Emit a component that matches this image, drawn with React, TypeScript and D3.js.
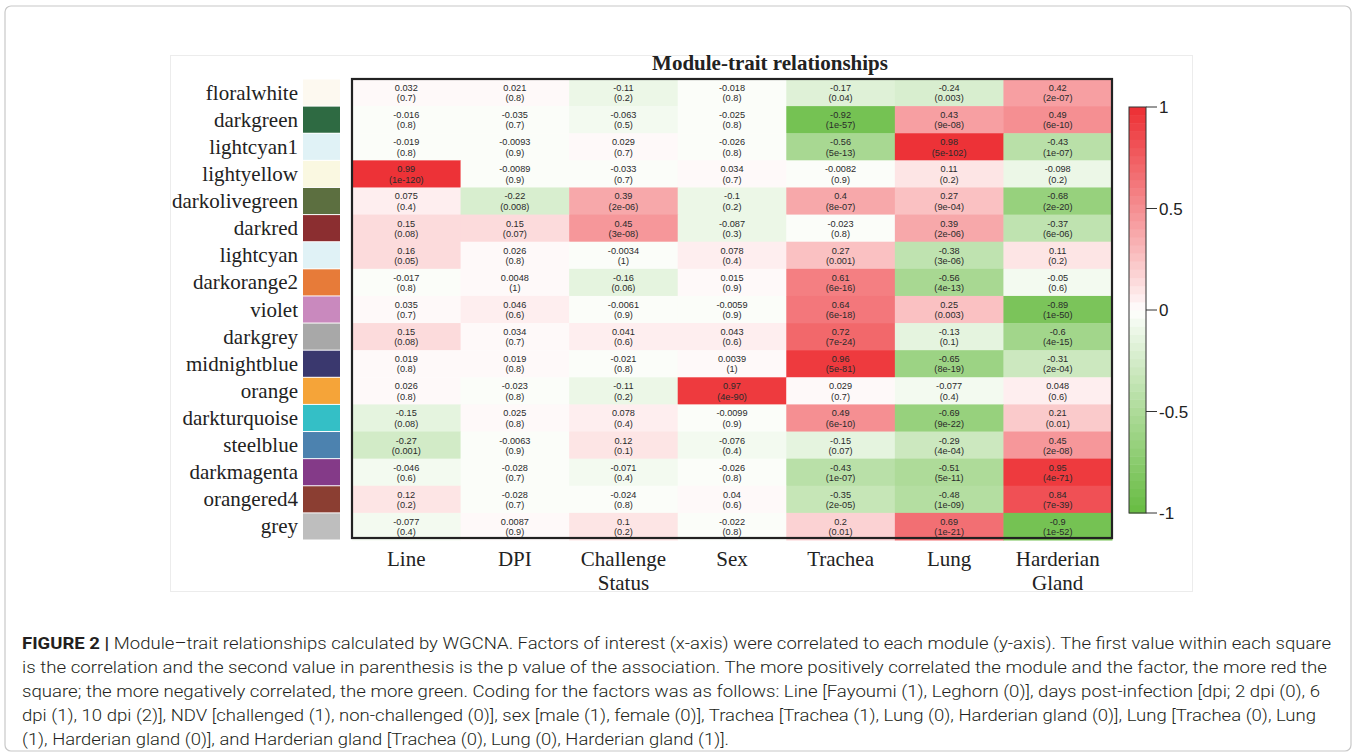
import React from 'react';
import * as d3 from 'd3';

// modules (rows) and traits (columns)
const modules = [
  'floralwhite', 'darkgreen', 'lightcyan1', 'lightyellow', 'darkolivegreen',
  'darkred', 'lightcyan', 'darkorange2', 'violet', 'darkgrey', 'midnightblue',
  'orange', 'darkturquoise', 'steelblue', 'darkmagenta', 'orangered4', 'grey',
];

const moduleSwatches = [
  '#fdf9f0', '#2e6a42', '#e0f2f6', '#faf8e1', '#5c6f40', '#8b2e30', '#e0f2f6',
  '#e77b39', '#c989be', '#a8a8a8', '#3a386e', '#f5a439', '#34bfc6', '#4c82af',
  '#843a88', '#8b3e32', '#bebebe',
];

const traits = ['Line', 'DPI', 'Challenge Status', 'Sex', 'Trachea', 'Lung', 'Harderian Gland'];

// correlation per module row, trait order as above
const corValues = [
  [0.032, 0.021, -0.11, -0.018, -0.17, -0.24, 0.42],
  [-0.016, -0.035, -0.063, -0.025, -0.92, 0.43, 0.49],
  [-0.019, -0.0093, 0.029, -0.026, -0.56, 0.98, -0.43],
  [0.99, -0.0089, -0.033, 0.034, -0.0082, 0.11, -0.098],
  [0.075, -0.22, 0.39, -0.1, 0.4, 0.27, -0.68],
  [0.15, 0.15, 0.45, -0.087, -0.023, 0.39, -0.37],
  [0.16, 0.026, -0.0034, 0.078, 0.27, -0.38, 0.11],
  [-0.017, 0.0048, -0.16, 0.015, 0.61, -0.56, -0.05],
  [0.035, 0.046, -0.0061, -0.0059, 0.64, 0.25, -0.89],
  [0.15, 0.034, 0.041, 0.043, 0.72, -0.13, -0.6],
  [0.019, 0.019, -0.021, 0.0039, 0.96, -0.65, -0.31],
  [0.026, -0.023, -0.11, 0.97, 0.029, -0.077, 0.048],
  [-0.15, 0.025, 0.078, -0.0099, 0.49, -0.69, 0.21],
  [-0.27, -0.0063, 0.12, -0.076, -0.15, -0.29, 0.45],
  [-0.046, -0.028, -0.071, -0.026, -0.43, -0.51, 0.95],
  [0.12, -0.028, -0.024, 0.04, -0.35, -0.48, 0.84],
  [-0.077, 0.0087, 0.1, -0.022, 0.2, 0.69, -0.9],
];

// p values, kept as printed
const pValues = [
  ['0.7', '0.8', '0.2', '0.8', '0.04', '0.003', '2e-07'],
  ['0.8', '0.7', '0.5', '0.8', '1e-57', '9e-08', '6e-10'],
  ['0.8', '0.9', '0.7', '0.8', '5e-13', '5e-102', '1e-07'],
  ['1e-120', '0.9', '0.7', '0.7', '0.9', '0.2', '0.2'],
  ['0.4', '0.008', '2e-06', '0.2', '8e-07', '9e-04', '2e-20'],
  ['0.08', '0.07', '3e-08', '0.3', '0.8', '2e-06', '6e-06'],
  ['0.05', '0.8', '1', '0.4', '0.001', '3e-06', '0.2'],
  ['0.8', '1', '0.06', '0.9', '6e-16', '4e-13', '0.6'],
  ['0.7', '0.6', '0.9', '0.9', '6e-18', '0.003', '1e-50'],
  ['0.08', '0.7', '0.6', '0.6', '7e-24', '0.1', '4e-15'],
  ['0.8', '0.8', '0.8', '1', '5e-81', '8e-19', '2e-04'],
  ['0.8', '0.8', '0.2', '4e-90', '0.7', '0.4', '0.6'],
  ['0.08', '0.8', '0.4', '0.9', '6e-10', '9e-22', '0.01'],
  ['0.001', '0.9', '0.1', '0.4', '0.07', '4e-04', '2e-08'],
  ['0.6', '0.7', '0.4', '0.8', '1e-07', '5e-11', '4e-71'],
  ['0.2', '0.7', '0.8', '0.6', '2e-05', '1e-09', '7e-39'],
  ['0.4', '0.9', '0.2', '0.8', '0.01', '1e-21', '1e-52'],
];

const legendTicks = [1, 0.5, 0, -0.5, -1];
const nColors = 50;

const captionLines = [
  'Module–trait relationships calculated by WGCNA. Factors of interest (x-axis) were correlated to each module (y-axis). The first value within each square',
  'is the correlation and the second value in parenthesis is the p value of the association. The more positively correlated the module and the factor, the more red the',
  'square; the more negatively correlated, the more green. Coding for the factors was as follows: Line [Fayoumi (1), Leghorn (0)], days post-infection [dpi; 2 dpi (0), 6',
  'dpi (1), 10 dpi (2)], NDV [challenged (1), non-challenged (0)], sex [male (1), female (0)], Trachea [Trachea (1), Lung (0), Harderian gland (0)], Lung [Trachea (0), Lung',
  '(1), Harderian gland (0)], and Harderian gland [Trachea (0), Lung (0), Harderian gland (1)].',
];
const captionEnds = [1331, 1327, 1320, 1316, 729];

const serif = '"Liberation Serif", "Times New Roman", serif';
const sans = '"Liberation Sans", Arial, sans-serif';
const captionFont = 'Roboto, "Liberation Sans", Arial, sans-serif';

export default function App() {
  const x = d3.scaleBand().domain(traits).range([352, 1112]);
  const y = d3.scaleBand().domain(modules).range([79, 540]);

  const ramp = d3
    .scaleDivergingPow()
    .exponent(0.9)
    .domain([-1, 0, 1])
    .interpolator(d3.piecewise(d3.interpolateRgb, ['#6abd45', '#ffffff', '#ed3237']));
  // WGCNA style: a palette of 50 discrete colours
  const levels = d3.range(nColors).map((k) => -1 + (2 * k) / (nColors - 1));
  const color = (v) => {
    const k = Math.round(((v + 1) / 2) * (nColors - 1));
    return ramp(levels[Math.max(0, Math.min(nColors - 1, k))]);
  };

  const legendY = d3.scaleLinear().domain([0, nColors]).range([513, 107]);

  const cells = [];
  modules.forEach((m, i) => {
    traits.forEach((t, j) => {
      cells.push({ m, t, v: corValues[i][j], p: pValues[i][j] });
    });
  });

  const tickY = d3.scaleLinear().domain([1, -1]).range([107, 513]);

  return (
    <svg
      width={1356}
      height={756}
      style={{ position: 'absolute', left: 0, top: 0, display: 'block', background: '#fff' }}
    >
      <rect x={5} y={6} width={1346} height={745} rx={6} fill="none" stroke="#c8c8c8" strokeWidth={1.2} />
      <rect x={170.5} y={55.5} width={1022} height={536} fill="none" stroke="#ececec" strokeWidth={1} />

      <text x={770} y={70} textAnchor="middle" fontFamily={serif} fontWeight="bold" fontSize={21} fill="#222">
        Module-trait relationships
      </text>

      {/* module names and colour swatches */}
      {modules.map((m, i) => (
        <g key={m}>
          <text
            x={298}
            y={y(m) + y.bandwidth() / 2 + 7}
            textAnchor="end"
            fontFamily={serif}
            fontSize={21}
            fill="#222"
          >
            {m}
          </text>
          <rect x={303} y={y(m) + 0.5} width={37} height={y.bandwidth() - 1} fill={moduleSwatches[i]} />
        </g>
      ))}

      {/* heatmap cells */}
      {cells.map((c) => (
        <g key={c.m + c.t}>
          <rect x={x(c.t)} y={y(c.m)} width={x.bandwidth() + 0.5} height={y.bandwidth() + 0.5} fill={color(c.v)} />
          <text
            x={x(c.t) + x.bandwidth() / 2}
            y={y(c.m) + 12}
            textAnchor="middle"
            fontFamily={sans}
            fontSize={9.2}
            fill="#2a2a2a"
          >
            {String(c.v)}
          </text>
          <text
            x={x(c.t) + x.bandwidth() / 2}
            y={y(c.m) + 22.3}
            textAnchor="middle"
            fontFamily={sans}
            fontSize={9.2}
            fill="#2a2a2a"
          >
            {'(' + c.p + ')'}
          </text>
        </g>
      ))}
      <rect x={352} y={79} width={760} height={459} fill="none" stroke="#222" strokeWidth={2.2} />

      {/* trait labels */}
      {traits.map((t) => {
        const words = t.split(' ');
        return (
          <text key={t} textAnchor="middle" fontFamily={serif} fontSize={21} fill="#222">
            {words.map((w, k) => (
              <tspan key={w} x={x(t) + x.bandwidth() / 2} y={566 + k * 24}>
                {w}
              </tspan>
            ))}
          </text>
        );
      })}

      {/* colour legend */}
      {levels.map((v, k) => (
        <rect
          key={k}
          x={1129}
          y={legendY(k + 1)}
          width={17}
          height={legendY(k) - legendY(k + 1) + 0.5}
          fill={ramp(v)}
        />
      ))}
      <rect x={1129} y={tickY(1)} width={17} height={tickY(-1) - tickY(1)} fill="none" stroke="#333" strokeWidth={1} />
      {legendTicks.map((t) => (
        <g key={t}>
          <line x1={1146} x2={1157} y1={tickY(t)} y2={tickY(t)} stroke="#333" strokeWidth={1} />
          <text x={1159} y={tickY(t)} dy="0.36em" fontFamily={sans} fontSize={17} fill="#222">
            {t}
          </text>
        </g>
      ))}

      {/* caption */}
      {captionLines.map((line, i) => (
        <text
          key={i}
          x={22}
          y={649 + i * 24}
          fontFamily={captionFont}
          fontWeight={300}
          fontSize={16.5}
          fill="#231f20"
          textLength={captionEnds[i] - 22}
          lengthAdjust="spacingAndGlyphs"
        >
          {i === 0 ? <tspan fontWeight="bold">FIGURE 2 | </tspan> : null}
          {line}
        </text>
      ))}
    </svg>
  );
}
